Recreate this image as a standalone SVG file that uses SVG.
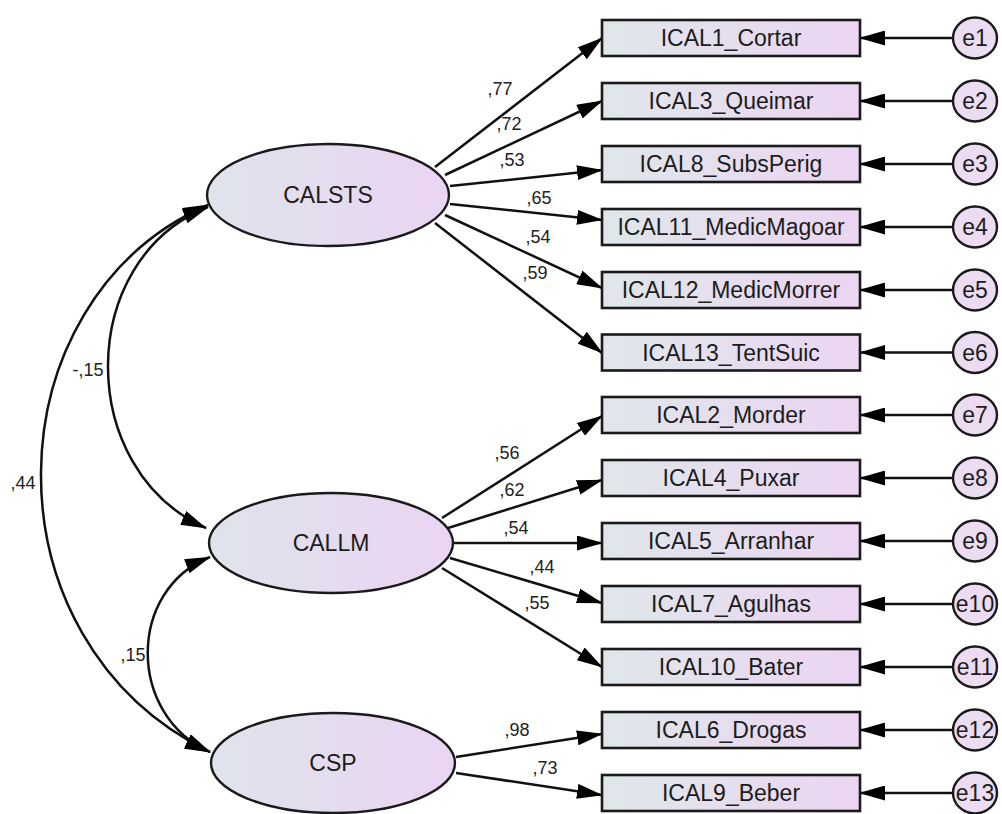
<svg xmlns="http://www.w3.org/2000/svg" width="1002" height="814" viewBox="0 0 1002 814">
<style>
.box{fill:url(#gBox);stroke:#1a1a1a;stroke-width:2.6}
.lat{fill:url(#gLat);stroke:#1a1a1a;stroke-width:2.4}
.err{fill:#ebdcf2;stroke:#1a1a1a;stroke-width:2.4}
.t{font-family:"Liberation Sans",Arial,sans-serif;font-size:23px;fill:#1c1c1c;text-anchor:middle}
.lbl{font-family:"Liberation Sans",Arial,sans-serif;font-size:18px;fill:#222;text-anchor:middle}
.c{fill:none;stroke:#111;stroke-width:2.5}
.a{marker-end:url(#ah)}
.b{marker-start:url(#ah);marker-end:url(#ah)}
</style>
<defs>
<linearGradient id="gBox" x1="0" y1="0" x2="1" y2="0"><stop offset="0" stop-color="#dfe7ea"/><stop offset="1" stop-color="#ecd5f2"/></linearGradient>
<linearGradient id="gLat" x1="0" y1="0" x2="1" y2="0"><stop offset="0" stop-color="#dfe4ec"/><stop offset="1" stop-color="#ead4f2"/></linearGradient>
<marker id="ah" markerUnits="userSpaceOnUse" viewBox="0 0 26 15" markerWidth="26" markerHeight="15" refX="25" refY="7.5" orient="auto-start-reverse"><path d="M0,0 L26,7.5 L0,15 z" fill="#000"/></marker>
</defs>
<rect width="1002" height="814" fill="#fff"/>
<g id="connectors">
<path class="c a" d="M435,167 L602,38"/>
<path class="c a" d="M445,175 L602,101"/>
<path class="c a" d="M450,186 L602,170"/>
<path class="c a" d="M450,204 L602,220"/>
<path class="c a" d="M445,215 L602,288"/>
<path class="c a" d="M435,223 L602,353"/>
<path class="c a" d="M442,518 L602,416"/>
<path class="c a" d="M448,528 L602,480"/>
<path class="c a" d="M453,543 L602,543"/>
<path class="c a" d="M450,558 L602,603"/>
<path class="c a" d="M442,568 L602,667"/>
<path class="c a" d="M456,757 L602,734"/>
<path class="c a" d="M456,773 L602,795"/>
<path class="c a" d="M952,38 L860,38"/>
<path class="c a" d="M952,101 L860,101"/>
<path class="c a" d="M952,164 L860,164"/>
<path class="c a" d="M952,227 L860,227"/>
<path class="c a" d="M952,290 L860,290"/>
<path class="c a" d="M952,352.5 L860,352.5"/>
<path class="c a" d="M952,415 L860,415"/>
<path class="c a" d="M952,478 L860,478"/>
<path class="c a" d="M952,541 L860,541"/>
<path class="c a" d="M952,604 L860,604"/>
<path class="c a" d="M952,667 L860,667"/>
<path class="c a" d="M952,730 L860,730"/>
<path class="c a" d="M952,793 L860,793"/>
<path class="c b" d="M208,205 C-10,300 -20,640 210,752"/>
<path class="c b" d="M208,207 C75,260 75,470 206,528"/>
<path class="c b" d="M210,557 C127,590 127,715 210,752"/>
<text class="lbl" x="500" y="95">,77</text>
<text class="lbl" x="509" y="130">,72</text>
<text class="lbl" x="512" y="166">,53</text>
<text class="lbl" x="539" y="204">,65</text>
<text class="lbl" x="538" y="243">,54</text>
<text class="lbl" x="535" y="279">,59</text>
<text class="lbl" x="507" y="459">,56</text>
<text class="lbl" x="512" y="496">,62</text>
<text class="lbl" x="516" y="534">,54</text>
<text class="lbl" x="542" y="573">,44</text>
<text class="lbl" x="537" y="609">,55</text>
<text class="lbl" x="517" y="736">,98</text>
<text class="lbl" x="545" y="774">,73</text>
<text class="lbl" x="23" y="489">,44</text>
<text class="lbl" x="88" y="376">-,15</text>
<text class="lbl" x="133" y="661">,15</text>
</g>
<g id="CALSTS"><ellipse class="lat" cx="328" cy="195" rx="121" ry="51"/><text class="t" x="328" y="203">CALSTS</text></g>
<g id="CALLM"><ellipse class="lat" cx="331" cy="543" rx="122" ry="50"/><text class="t" x="331" y="551">CALLM</text></g>
<g id="CSP"><ellipse class="lat" cx="333" cy="763" rx="122" ry="50"/><text class="t" x="333" y="771">CSP</text></g>
<g id="ICAL1_Cortar"><rect class="box" x="602" y="20" width="258" height="36"/><text class="t" x="731" y="46">ICAL1_Cortar</text></g>
<g id="ICAL3_Queimar"><rect class="box" x="602" y="83" width="258" height="36"/><text class="t" x="731" y="109">ICAL3_Queimar</text></g>
<g id="ICAL8_SubsPerig"><rect class="box" x="602" y="146" width="258" height="36"/><text class="t" x="731" y="172">ICAL8_SubsPerig</text></g>
<g id="ICAL11_MedicMagoar"><rect class="box" x="602" y="209" width="258" height="36"/><text class="t" x="731" y="235">ICAL11_MedicMagoar</text></g>
<g id="ICAL12_MedicMorrer"><rect class="box" x="602" y="272" width="258" height="36"/><text class="t" x="731" y="298">ICAL12_MedicMorrer</text></g>
<g id="ICAL13_TentSuic"><rect class="box" x="602" y="334.5" width="258" height="36"/><text class="t" x="731" y="360.5">ICAL13_TentSuic</text></g>
<g id="ICAL2_Morder"><rect class="box" x="602" y="397" width="258" height="36"/><text class="t" x="731" y="423">ICAL2_Morder</text></g>
<g id="ICAL4_Puxar"><rect class="box" x="602" y="460" width="258" height="36"/><text class="t" x="731" y="486">ICAL4_Puxar</text></g>
<g id="ICAL5_Arranhar"><rect class="box" x="602" y="523" width="258" height="36"/><text class="t" x="731" y="549">ICAL5_Arranhar</text></g>
<g id="ICAL7_Agulhas"><rect class="box" x="602" y="586" width="258" height="36"/><text class="t" x="731" y="612">ICAL7_Agulhas</text></g>
<g id="ICAL10_Bater"><rect class="box" x="602" y="649" width="258" height="36"/><text class="t" x="731" y="675">ICAL10_Bater</text></g>
<g id="ICAL6_Drogas"><rect class="box" x="602" y="712" width="258" height="36"/><text class="t" x="731" y="738">ICAL6_Drogas</text></g>
<g id="ICAL9_Beber"><rect class="box" x="602" y="775" width="258" height="36"/><text class="t" x="731" y="801">ICAL9_Beber</text></g>
<g id="e1"><ellipse class="err" cx="975" cy="38" rx="22" ry="20.5"/><text class="t" x="975" y="46">e1</text></g>
<g id="e2"><ellipse class="err" cx="975" cy="101" rx="22" ry="20.5"/><text class="t" x="975" y="109">e2</text></g>
<g id="e3"><ellipse class="err" cx="975" cy="164" rx="22" ry="20.5"/><text class="t" x="975" y="172">e3</text></g>
<g id="e4"><ellipse class="err" cx="975" cy="227" rx="22" ry="20.5"/><text class="t" x="975" y="235">e4</text></g>
<g id="e5"><ellipse class="err" cx="975" cy="290" rx="22" ry="20.5"/><text class="t" x="975" y="298">e5</text></g>
<g id="e6"><ellipse class="err" cx="975" cy="352.5" rx="22" ry="20.5"/><text class="t" x="975" y="360.5">e6</text></g>
<g id="e7"><ellipse class="err" cx="975" cy="415" rx="22" ry="20.5"/><text class="t" x="975" y="423">e7</text></g>
<g id="e8"><ellipse class="err" cx="975" cy="478" rx="22" ry="20.5"/><text class="t" x="975" y="486">e8</text></g>
<g id="e9"><ellipse class="err" cx="975" cy="541" rx="22" ry="20.5"/><text class="t" x="975" y="549">e9</text></g>
<g id="e10"><ellipse class="err" cx="975" cy="604" rx="22" ry="20.5"/><text class="t" x="975" y="612">e10</text></g>
<g id="e11"><ellipse class="err" cx="975" cy="667" rx="22" ry="20.5"/><text class="t" x="975" y="675">e11</text></g>
<g id="e12"><ellipse class="err" cx="975" cy="730" rx="22" ry="20.5"/><text class="t" x="975" y="738">e12</text></g>
<g id="e13"><ellipse class="err" cx="975" cy="793" rx="22" ry="20.5"/><text class="t" x="975" y="801">e13</text></g>
</svg>
